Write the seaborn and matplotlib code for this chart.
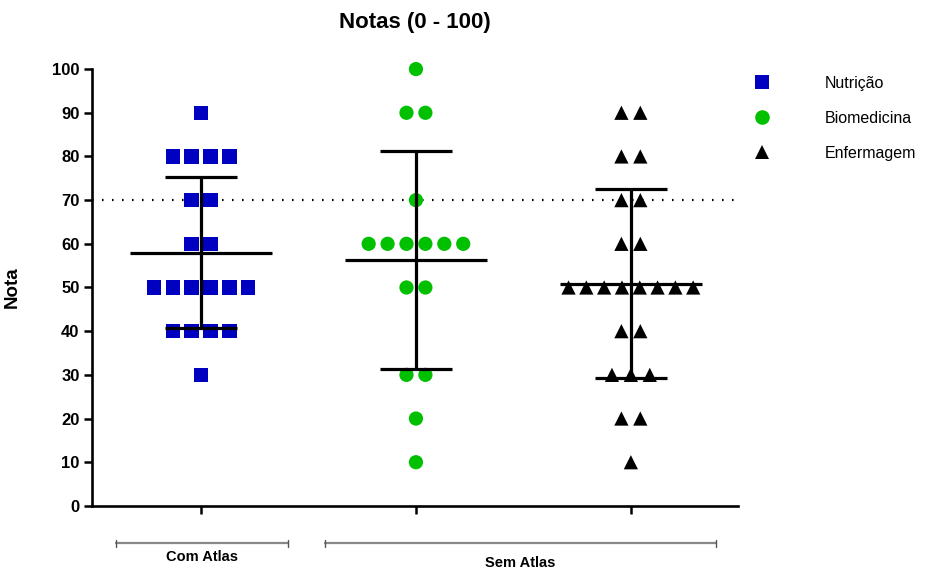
import numpy as np
import pandas as pd
import matplotlib
matplotlib.use("Agg")
import matplotlib.pyplot as plt
import matplotlib.transforms as mtransforms
from matplotlib.lines import Line2D
import seaborn as sns


# ==========================================
# DATA
# ==========================================

cursos = ["Nutrição", "Biomedicina", "Enfermagem"]

nutricao = [90, 80, 80, 80, 80, 70, 70, 60, 60,
            50, 50, 50, 50, 50, 50, 40, 40, 40, 40, 30]

biomedicina = [100, 90, 90, 70, 60, 60, 60, 60, 60, 60,
               50, 50, 30, 30, 20, 10]

enfermagem = [90, 90, 80, 80, 70, 70, 60, 60,
              50, 50, 50, 50, 50, 50, 50, 50,
              40, 40, 30, 30, 30, 20, 20, 10]

grupos = ["Com Atlas", "Sem Atlas"]

linha_corte = 70

y_ticks = [0, 10, 20, 30, 40, 50, 60, 70, 80, 90, 100]

cores = {"Nutrição": "#0000C0",
         "Biomedicina": "#00C000",
         "Enfermagem": "#000000"}

marcadores = {"Nutrição": "s",
              "Biomedicina": "o",
              "Enfermagem": "^"}


# ==========================================
# DOT POSITIONS (Prism-like symmetric spread)
# ==========================================

def spread_positions(values, centre, step=0.088, max_spread=0.58):

    values = np.asarray(values)
    xs = np.zeros(len(values), dtype=float)

    for v in np.unique(values):
        idx = np.where(values == v)[0]
        n = len(idx)
        width = min((n - 1) * step, max_spread)
        if n > 1:
            offs = np.linspace(-width / 2, width / 2, n)
        else:
            offs = np.array([0.0])
        xs[idx] = centre + offs

    return xs


series = [nutricao, biomedicina, enfermagem]

frames = []
for i, (curso, notas) in enumerate(zip(cursos, series)):
    frames.append(pd.DataFrame({
        "curso": curso,
        "nota": notas,
        "x": spread_positions(notas, i)
    }))

df = pd.concat(frames, ignore_index=True)

stats = df.groupby("curso", sort=False)["nota"].agg(["mean", "std"])


# ==========================================
# PLOT
# ==========================================

sns.set_style("white")
plt.rcParams["font.family"] = ["Liberation Sans", "DejaVu Sans"]
plt.rcParams["text.color"] = "black"
plt.rcParams["axes.labelcolor"] = "black"
plt.rcParams["xtick.color"] = "black"
plt.rcParams["ytick.color"] = "black"

fig = plt.figure(figsize=(9.49, 5.71), dpi=100)
ax = fig.add_axes([0.097, 0.114, 0.681, 0.765])

ax.axhline(linha_corte, color="black", lw=1.6,
           ls=(0, (0.7, 3.8)), zorder=1)

sns.scatterplot(
    data=df, x="x", y="nota",
    hue="curso", style="curso",
    palette=cores, markers=marcadores,
    s=105, linewidth=0, legend=False,
    clip_on=False, zorder=2, ax=ax
)

# mean and SD
for i, curso in enumerate(cursos):
    m = stats.loc[curso, "mean"]
    sd = stats.loc[curso, "std"]
    ax.hlines(m, i - 0.33, i + 0.33, color="black", lw=2.3, zorder=3)
    ax.vlines(i, m - sd, m + sd, color="black", lw=2.3, zorder=3)
    ax.hlines([m - sd, m + sd], i - 0.168, i + 0.168,
              color="black", lw=2.3, zorder=3)

ax.set_xlim(-0.507, 2.5)
ax.set_ylim(0, 100)

ax.set_yticks(y_ticks)
ax.set_yticklabels([str(t) for t in y_ticks],
                   fontsize=12, fontweight="bold")
ax.set_xticks(range(len(cursos)))
ax.set_xticklabels([])

ax.tick_params(axis="both", direction="out", length=5.5,
               width=1.8, color="black", left=True, bottom=True)

for side in ["top", "right"]:
    ax.spines[side].set_visible(False)
for side in ["left", "bottom"]:
    ax.spines[side].set_linewidth(1.9)
    ax.spines[side].set_color("black")

ax.set_xlabel("")
ax.set_ylabel("Nota", fontsize=13.5, fontweight="bold")
ax.yaxis.set_label_coords(-0.111, 0.5)

# group brackets under the axis
trans = mtransforms.blended_transform_factory(ax.transData, ax.transAxes)

bracket_limits = {"Com Atlas": (-0.395, 0.405),
                  "Sem Atlas": (0.577, 2.395)}
label_y = {"Com Atlas": -0.118, "Sem Atlas": -0.13}

for g in grupos:
    x0, x1 = bracket_limits[g]
    ax.plot([x0, x1], [-0.085, -0.085], transform=trans,
            color="#888888", lw=1.6, clip_on=False)
    for xe in (x0, x1):
        ax.plot([xe, xe], [-0.077, -0.093], transform=trans,
                color="#555555", lw=1.0, clip_on=False)
    ax.text((x0 + x1) / 2, label_y[g], g, transform=trans,
            ha="center", va="center", fontsize=10.5,
            fontweight="bold")

fig.text(0.437, 0.961, "Notas (0 - 100)", ha="center", va="center",
         fontsize=16, fontweight="bold")

handles = [
    Line2D([], [], ls="none", marker=marcadores[c],
           markerfacecolor=cores[c], markeredgewidth=0,
           markersize=10.5, label=c)
    for c in cursos
]

fig.legend(
    handles=handles, loc="upper left",
    bbox_to_anchor=(0.7945, 0.867),
    frameon=False, fontsize=11.5,
    handlelength=1.0, handletextpad=3.4,
    labelspacing=1.25, borderpad=0, borderaxespad=0
)

fig.savefig("out.png", dpi=100)
plt.close(fig)
